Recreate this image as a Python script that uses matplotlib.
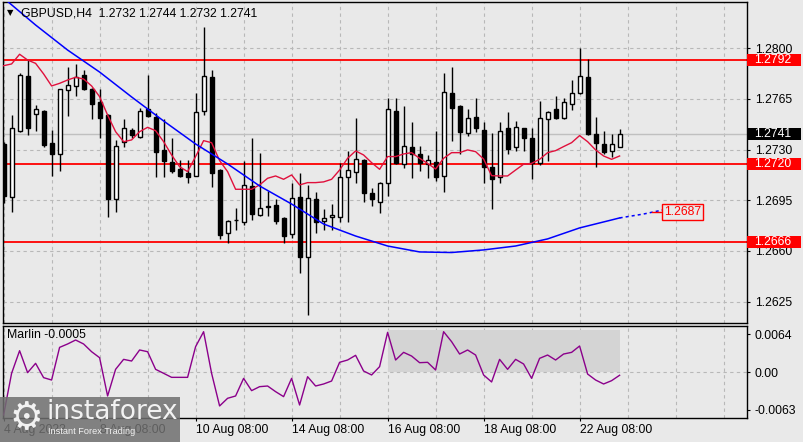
"""
GBPUSD H4 candlestick chart with moving averages and the Marlin oscillator,
drawn in the style of an MT4 terminal screenshot.
"""

import matplotlib
matplotlib.use("Agg")   # headless-safe
import matplotlib.pyplot as plt
from matplotlib.patches import Rectangle
from matplotlib.transforms import blended_transform_factory
import numpy as np

plt.rcParams["font.family"] = ["Liberation Sans", "DejaVu Sans"]

# ── Price data (H4 bars, 4 Aug 08:00 .. 23 Aug 04:00) ────────────────────────
opens = [1.27339, 1.26975, 1.27429, 1.27809, 1.27544, 1.27567, 1.27344, 1.27268,
         1.27710, 1.27740, 1.27813, 1.27717, 1.27627, 1.27539, 1.26957, 1.27355,
         1.27436, 1.27390, 1.27581, 1.27528, 1.27298, 1.27212, 1.27166, 1.27141,
         1.27120, 1.27567, 1.27804, 1.27159, 1.26722, 1.26812, 1.26802, 1.27051,
         1.26848, 1.26908, 1.26918, 1.26825, 1.26715, 1.26975, 1.26556, 1.26957,
         1.26809, 1.26832, 1.26832, 1.27109, 1.27143, 1.27228, 1.27003, 1.26941,
         1.27072, 1.27567, 1.27199, 1.27318, 1.27270, 1.27199, 1.27212, 1.27120,
         1.27689, 1.27602, 1.27413, 1.27523, 1.27436, 1.27178, 1.27109, 1.27447,
         1.27316, 1.27447, 1.27378, 1.27205, 1.27509, 1.27579, 1.27516, 1.27613,
         1.27694, 1.27800, 1.27408, 1.27339, 1.27293, 1.27320]
highs = [1.27355, 1.27539, 1.27832, 1.27919, 1.27606, 1.27574, 1.27436, 1.27721,
         1.27869, 1.27889, 1.27850, 1.27724, 1.27719, 1.27544, 1.27367, 1.27512,
         1.27452, 1.27590, 1.27816, 1.27551, 1.27512, 1.27383, 1.27228, 1.27228,
         1.27689, 1.28150, 1.27850, 1.27164, 1.26814, 1.26895, 1.27224, 1.27383,
         1.27275, 1.27017, 1.26959, 1.26832, 1.27067, 1.27136, 1.27056, 1.27005,
         1.26890, 1.26924, 1.27205, 1.27291, 1.27521, 1.27233, 1.27033, 1.27079,
         1.27655, 1.27655, 1.27602, 1.27489, 1.27328, 1.27263, 1.27429, 1.27832,
         1.27873, 1.27608, 1.27581, 1.27655, 1.27489, 1.27413, 1.27493, 1.27558,
         1.27498, 1.27452, 1.27447, 1.27636, 1.27567, 1.27671, 1.27655, 1.27781,
         1.28000, 1.27924, 1.27528, 1.27429, 1.27408, 1.27440]
lows = [1.26934, 1.26872, 1.27420, 1.27401, 1.27431, 1.27316, 1.27120, 1.27155,
        1.27535, 1.27673, 1.27712, 1.27509, 1.27378, 1.26832, 1.26867, 1.27321,
        1.27378, 1.27383, 1.27528, 1.27113, 1.27113, 1.27136, 1.27113, 1.27072,
        1.27115, 1.27539, 1.27044, 1.26683, 1.26653, 1.26745, 1.26779, 1.26814,
        1.26842, 1.26842, 1.26786, 1.26653, 1.26687, 1.26445, 1.26158, 1.26722,
        1.26745, 1.26745, 1.26798, 1.26802, 1.27072, 1.26936, 1.26913, 1.26865,
        1.26982, 1.27201, 1.27176, 1.27106, 1.27152, 1.27106, 1.27086, 1.27010,
        1.27362, 1.27268, 1.27397, 1.27424, 1.27067, 1.26888, 1.27072, 1.27270,
        1.27293, 1.27293, 1.27095, 1.27194, 1.27224, 1.27509, 1.27512, 1.27574,
        1.27684, 1.27401, 1.27182, 1.27270, 1.27252, 1.27320]
closes = [1.26980, 1.27447, 1.27816, 1.27452, 1.27581, 1.27332, 1.27272, 1.27717,
          1.27744, 1.27800, 1.27719, 1.27613, 1.27521, 1.26959, 1.27325, 1.27447,
          1.27401, 1.27567, 1.27535, 1.27286, 1.27222, 1.27155, 1.27120, 1.27113,
          1.27558, 1.27809, 1.27141, 1.26710, 1.26807, 1.26816, 1.27056, 1.26853,
          1.26895, 1.26906, 1.26809, 1.26706, 1.26964, 1.26561, 1.26964, 1.26802,
          1.26825, 1.26846, 1.27113, 1.27159, 1.27233, 1.27003, 1.26957, 1.27072,
          1.27581, 1.27205, 1.27325, 1.27270, 1.27205, 1.27226, 1.27113, 1.27696,
          1.27585, 1.27424, 1.27516, 1.27447, 1.27182, 1.27095, 1.27431, 1.27304,
          1.27454, 1.27383, 1.27205, 1.27516, 1.27562, 1.27521, 1.27627, 1.27689,
          1.27809, 1.27408, 1.27344, 1.27286, 1.27337, 1.27410]

# fast MA (red), one value per bar
ma_fast = [1.27880, 1.27892, 1.27959, 1.27919, 1.27896, 1.27823, 1.27740, 1.27758,
           1.27781, 1.27800, 1.27788, 1.27740, 1.27666, 1.27539, 1.27424, 1.27355,
           1.27367, 1.27424, 1.27454, 1.27431, 1.27355, 1.27263, 1.27182, 1.27148,
           1.27252, 1.27362, 1.27348, 1.27224, 1.27148, 1.27026, 1.27026, 1.27026,
           1.27056, 1.27102, 1.27118, 1.27095, 1.27125, 1.27056, 1.27072, 1.27072,
           1.27077, 1.27095, 1.27159, 1.27240, 1.27291, 1.27263, 1.27210, 1.27164,
           1.27252, 1.27252, 1.27270, 1.27279, 1.27240, 1.27205, 1.27166, 1.27240,
           1.27279, 1.27279, 1.27298, 1.27286, 1.27235, 1.27120, 1.27118, 1.27118,
           1.27159, 1.27199, 1.27205, 1.27233, 1.27279, 1.27293, 1.27321, 1.27348,
           1.27397, 1.27355, 1.27298, 1.27256, 1.27233, 1.27256]

# slow MA (blue), sampled every few bars, plus its dotted projection
ma_slow_x = [0, 4, 8, 12, 16, 20, 24, 28, 32, 36, 40, 44, 48, 52, 56, 60, 64, 68, 72, 76, 77]
ma_slow = [1.28347, 1.28161, 1.27988, 1.27836, 1.27664, 1.27498, 1.27339, 1.27201,
           1.27049, 1.26924, 1.26786, 1.26703, 1.26634, 1.26593, 1.26589, 1.26607,
           1.26634, 1.26683, 1.26759, 1.26814, 1.26828]
proj_x = [77, 80, 83, 85]
proj = [1.26828, 1.26855, 1.26890, 1.26911]
proj_label = 1.2687

# Marlin oscillator, one value per bar
marlin = [-0.00719, -0.00017, 0.00364, -0.00006, 0.00151, -0.00090, -0.00130, 0.00420,
          0.00477, 0.00544, 0.00477, 0.00347, 0.00246, -0.00399, 0.00050, 0.00218,
          0.00190, 0.00376, 0.00347, 0.00050, -0.00017, -0.00085, -0.00085, -0.00085,
          0.00432, 0.00684, -0.00017, -0.00567, -0.00438, -0.00399, -0.00102, -0.00309,
          -0.00242, -0.00231, -0.00326, -0.00410, -0.00102, -0.00551, -0.00074, -0.00231,
          -0.00197, -0.00147, 0.00168, 0.00207, 0.00286, 0.00022, -0.00045, 0.00095,
          0.00673, 0.00207, 0.00336, 0.00274, 0.00162, 0.00168, 0.00039, 0.00684,
          0.00516, 0.00308, 0.00376, 0.00291, -0.00045, -0.00163, 0.00218, 0.00050,
          0.00218, 0.00140, -0.00102, 0.00235, 0.00291, 0.00207, 0.00308, 0.00336,
          0.00443, -0.00029, -0.00130, -0.00197, -0.00141, -0.00050]
highlight = (48, 77, 0.0071)    # shaded box in the oscillator: start bar, end bar, top

levels_red = [1.2792, 1.2720, 1.2666]
last_price = 1.2741

price_ticks = [1.2625, 1.2660, 1.2695, 1.2730, 1.2765, 1.2800]
osc_ticks = [-0.0063, 0.0, 0.0064]
osc_tick_labels = ["-0.0063", "0.00", "0.0064"]
time_ticks = [0, 12, 24, 36, 48, 60, 72]
time_labels = ["4 Aug 2023", "8 Aug 08:00", "10 Aug 08:00", "14 Aug 08:00",
               "16 Aug 08:00", "18 Aug 08:00", "22 Aug 08:00"]
title = "GBPUSD,H4  1.2732 1.2744 1.2732 1.2741"

# ── Layout constants (pixels of an 804x442 canvas) ────────────────────────────
W, H = 804, 442
BG = "#e9e9e9"
GRID = "#b8b8b8"
FS = 8.8
X_LIM = (-0.075, 92.925)
P_LIM = (1.26102, 1.28320)
O_LIM = (-0.00770, 0.00780)


def px_axes(fig, x0, y0, x1, y1):
    return fig.add_axes([x0 / W, 1 - y1 / H, (x1 - x0) / W, (y1 - y0) / H])


def style_axes(ax):
    ax.set_facecolor(BG)
    for s in ax.spines.values():
        s.set_color("black")
        s.set_linewidth(1)
    ax.set_xlim(*X_LIM)
    for gx in np.arange(0, 93, 6):
        ax.axvline(gx, color=GRID, lw=0.8, ls=(0, (3, 3)), zorder=0)
    ax.yaxis.tick_right()
    ax.tick_params(axis="y", direction="out", length=2.2, width=0.8,
                   pad=3.4, labelsize=FS, colors="black")


def price_tag(ax, price, face, text_color, px_per_unit):
    tr = blended_transform_factory(ax.transAxes, ax.transData)
    half = 6 / px_per_unit
    ax.add_patch(Rectangle((1.0, price - half), 54 / 744, 2 * half, transform=tr,
                           facecolor=face, edgecolor="none", clip_on=False, zorder=6))
    ax.text(1 + 7 / 744, price, f"{price:.4f}", transform=tr, ha="left", va="center",
            color=text_color, fontsize=FS, clip_on=False, zorder=7)


def main():
    fig = plt.figure(figsize=(W / 100, H / 100), dpi=100, facecolor=BG)
    ax = px_axes(fig, 3, 2, 747, 323)
    ax2 = px_axes(fig, 3, 326, 747, 418)
    style_axes(ax)
    style_axes(ax2)

    # ── Price panel ───────────────────────────────────────────────────────────
    x = np.arange(len(opens))
    o, hi, lo, c = (np.array(v) for v in (opens, highs, lows, closes))
    up = c >= o
    ax.vlines(x, lo, hi, color="black", lw=1, zorder=3)
    ax.bar(x, np.abs(c - o), bottom=np.minimum(o, c), width=0.52,
           color=np.where(up, "white", "black"), edgecolor="black", lw=1, zorder=4)

    for pt in price_ticks:
        ax.axhline(pt, color=GRID, lw=0.8, ls=(0, (3, 3)), zorder=0)
    ax.axhline(last_price, color="#c0c0c0", lw=1, zorder=1)
    for lv in levels_red:
        ax.axhline(lv, color="#ff0000", lw=1.3, zorder=2)

    ax.plot(x, ma_fast, color="#e0103c", lw=1, zorder=5)
    ax.plot(ma_slow_x, ma_slow, color="#0000ff", lw=1.1, zorder=5)
    ax.plot(proj_x, proj, color="#0000ff", lw=1.1, ls=(0, (2, 2)), zorder=5)

    ax.plot([81.05, 82.3], [proj_label, proj_label], color="#ff0000", lw=1, zorder=6)
    ax.text(84.9, proj_label, f"{proj_label:.4f}", ha="center", va="center",
            color="#ff0000", fontsize=FS, zorder=7,
            bbox=dict(boxstyle="square,pad=0.15", facecolor=BG,
                      edgecolor="#ff0000", lw=1))

    ax.set_ylim(*P_LIM)
    ax.set_yticks(price_ticks)
    ax.set_yticklabels([f"{t:.4f}" for t in price_ticks])
    ax.tick_params(axis="x", length=0, labelbottom=False)

    ppu = 321 / (P_LIM[1] - P_LIM[0])
    for lv in levels_red:
        price_tag(ax, lv, "#ff0000", "white", ppu)
    price_tag(ax, last_price, "black", "white", ppu)

    fig.text(10.5 / W, 1 - 12.5 / H, "▼", ha="center", va="center", fontsize=6,
             family="DejaVu Sans")
    fig.text(21 / W, 1 - 13 / H, title, ha="left", va="center", fontsize=FS)

    # ── Marlin oscillator panel ───────────────────────────────────────────────
    hs, he, ht = highlight
    ax2.add_patch(Rectangle((hs, 0), he - hs, ht, facecolor="#d4d4d4",
                            edgecolor="none", zorder=1))
    ax2.axhline(0, color=GRID, lw=0.8, ls=(0, (3, 3)), zorder=2)
    ax2.plot(x, marlin, color="#8b008b", lw=1, zorder=4)
    ax2.set_ylim(*O_LIM)
    ax2.set_yticks(osc_ticks)
    ax2.set_yticklabels(osc_tick_labels)
    ax2.set_xticks(time_ticks)
    ax2.set_xticklabels(time_labels, ha="left")
    ax2.tick_params(axis="x", direction="out", length=2.5, width=0.8, pad=2,
                    labelsize=FS)
    ax2.text(0.006, 0.9, f"Marlin {marlin[-1]:.4f}", transform=ax2.transAxes,
             ha="left", va="center", fontsize=FS, zorder=6)

    # ── Watermark ─────────────────────────────────────────────────────────────
    fig.add_artist(Rectangle((0, 0), 180 / W, 45 / H, transform=fig.transFigure,
                             facecolor="#6f6f6f", edgecolor="none", alpha=0.85,
                             zorder=10))
    fig.text(26 / W, 1 - 419 / H, "⚙", ha="center", va="center", fontsize=27,
             color="#f2f2f2", family="DejaVu Sans", zorder=11)
    fig.text(47 / W, 1 - 412 / H, "instaforex", ha="left", va="center",
             fontsize=19, color="#f2f2f2", family="DejaVu Sans", zorder=11)
    fig.text(48 / W, 1 - 432 / H, "Instant Forex Trading", ha="left", va="center",
             fontsize=6.6, color="#f2f2f2", zorder=11)

    fig.savefig("out.png", dpi=100, facecolor=BG)
    plt.close(fig)


if __name__ == "__main__":
    main()
